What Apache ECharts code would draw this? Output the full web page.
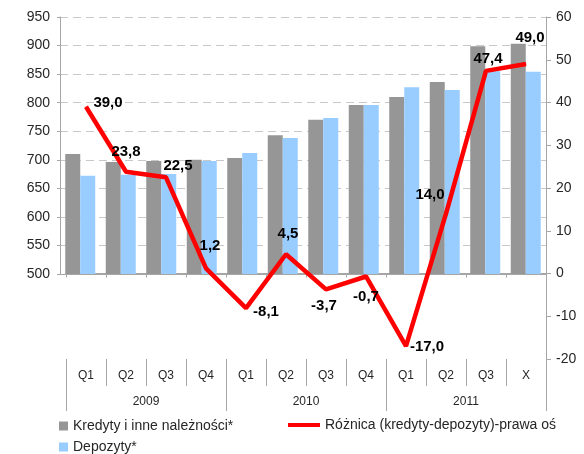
<!DOCTYPE html>
<html>
<head>
<meta charset="utf-8">
<script src="https://cdn.jsdelivr.net/npm/echarts@6/dist/echarts.min.js"></script>
<style>
    html, body { margin: 0; padding: 0; background: #fff; }
    #chart { width: 584px; height: 454px; }
</style>
</head>
<body>
<div id="chart"></div>
<script>
// dane
var quarters = ['Q1', 'Q2', 'Q3', 'Q4', 'Q1', 'Q2', 'Q3', 'Q4', 'Q1', 'Q2', 'Q3', 'X'];
var years = ['2009', '2010', '2011'];
var kredyty = [710, 696, 698, 700, 703, 743, 770, 796, 810, 836, 899, 903];
var depozyty = [672, 674, 675, 698, 712, 738, 773, 796, 827, 822, 855, 854];
var roznica = [39.0, 23.8, 22.5, 1.2, -8.1, 4.5, -3.7, -0.7, -17.0, 14.0, 47.4, 49.0];

// przesuniecia etykiet linii (px)
var labelShift = [[22, -4], [0, -20], [12, -11], [4, -23], [20, 4], [2, -20],
    [-2, 17], [0, 20], [21, 1], [-16, -19], [2, -12], [4, -26]];

var font = '"Liberation Sans", Arial, sans-serif';
var axisGray = '#a6a6a6';
var txt = '#262626';

var myChart = echarts.init(document.getElementById('chart'));

let lineData = []
roznica.forEach((v, i) => {
    lineData.push({
        value: v,
        label: { offset: labelShift[i] }
    })
})

let option = {
    animation: false,
    textStyle: { fontFamily: font },
    legend: [
        {
            left: 54, top: 414,
            icon: 'rect', itemWidth: 9, itemHeight: 9,
            textStyle: { fontSize: 14, color: txt, fontFamily: font },
            data: ['Kredyty i inne należności*']
        },
        {
            left: 283, top: 413,
            icon: 'rect', itemWidth: 32, itemHeight: 4,
            textStyle: { fontSize: 14, color: txt, fontFamily: font },
            data: ['Różnica (kredyty-depozyty)-prawa oś']
        },
        {
            left: 54, top: 435,
            icon: 'rect', itemWidth: 9, itemHeight: 9,
            textStyle: { fontSize: 14, color: txt, fontFamily: font },
            data: ['Depozyty*']
        }
    ],
    grid: [
        { left: 60, right: 38, top: 17, height: 257 },
        { left: 66, right: 38, top: 17, height: 342 }
    ],
    xAxis: [
        {
            gridIndex: 0, type: 'category', data: quarters,
            axisLine: { show: true, lineStyle: { color: axisGray } },
            axisTick: { show: false },
            axisLabel: { show: false }
        },
        {
            // os zero linii - tylko kreski
            gridIndex: 1, type: 'category', data: quarters,
            axisLine: { show: true, onZero: true, lineStyle: { color: axisGray } },
            axisTick: { show: true, length: 4, lineStyle: { color: axisGray } },
            axisLabel: { show: false }
        },
        {
            gridIndex: 1, type: 'category', data: quarters, position: 'bottom',
            axisLine: { show: false, onZero: false },
            axisTick: { show: true, length: 27, lineStyle: { color: axisGray } },
            axisLabel: { show: true, margin: 11, fontSize: 12, color: txt, fontFamily: font }
        },
        {
            gridIndex: 1, type: 'category', data: years, position: 'bottom',
            axisLine: { show: false, onZero: false },
            axisTick: { show: false },
            axisLabel: { show: true, margin: 37, fontSize: 12, color: txt, fontFamily: font }
        },
        {
            // kreski lat (z obu koncow)
            gridIndex: 1, type: 'value', min: 0, max: years.length, interval: 1, position: 'bottom',
            axisLine: { show: false, onZero: false },
            axisTick: { show: true, length: 52, lineStyle: { color: axisGray } },
            axisLabel: { show: false },
            splitLine: { show: false }
        }
    ],
    yAxis: [
        {
            gridIndex: 0, type: 'value', min: 500, max: 950, interval: 50,
            axisLine: { show: true, lineStyle: { color: axisGray } },
            axisTick: { show: true, length: 3, lineStyle: { color: axisGray } },
            axisLabel: { margin: 10, fontSize: 14, color: txt, fontFamily: font },
            splitLine: { show: true, lineStyle: { color: '#c8c8c8', type: [8, 5] } }
        },
        {
            gridIndex: 1, type: 'value', position: 'right', min: -20, max: 60, interval: 10,
            axisLine: { show: true, onZero: false, lineStyle: { color: axisGray } },
            axisTick: { show: true, length: 5, lineStyle: { color: axisGray } },
            axisLabel: { margin: 10, fontSize: 14, color: txt, fontFamily: font },
            splitLine: { show: false }
        }
    ],
    series: [
        {
            name: 'Kredyty i inne należności*', type: 'bar',
            xAxisIndex: 0, yAxisIndex: 0,
            barWidth: 15, barGap: '0%',
            itemStyle: { color: '#969696' },
            data: kredyty
        },
        {
            name: 'Depozyty*', type: 'bar',
            xAxisIndex: 0, yAxisIndex: 0,
            barWidth: 15, barGap: '0%',
            itemStyle: { color: '#99ccff' },
            data: depozyty
        },
        {
            name: 'Różnica (kredyty-depozyty)-prawa oś', type: 'line',
            xAxisIndex: 2, yAxisIndex: 1,
            symbol: 'circle', symbolSize: 1,
            itemStyle: { color: '#ff0000' },
            lineStyle: { color: '#ff0000', width: 4.5 },
            z: 5,
            label: {
                show: true, position: 'inside',
                color: '#000', fontSize: 15, fontWeight: 'bold', fontFamily: font,
                textBorderWidth: 0,
                formatter: p => p.value.toFixed(1).replace('.', ',')
            },
            data: lineData
        }
    ]
};

myChart.setOption(option);
</script>
</body>
</html>
